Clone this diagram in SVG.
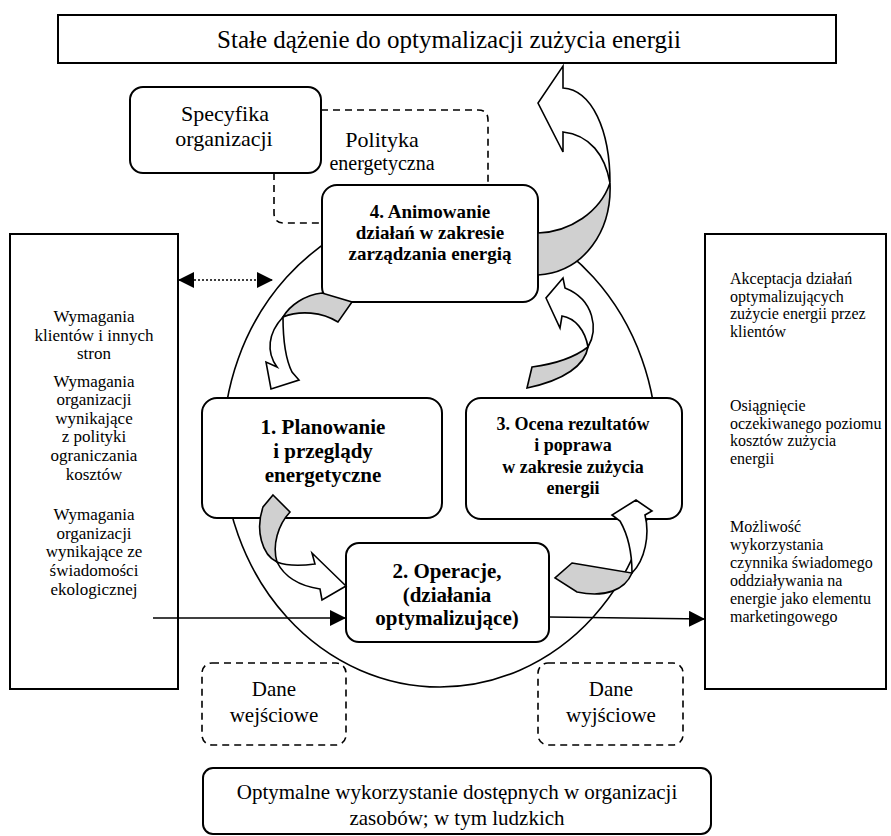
<svg xmlns="http://www.w3.org/2000/svg" width="891" height="836" viewBox="0 0 891 836">
<defs>
<style>
.box{fill:#fff;stroke:#000;stroke-width:2}
.dbox{fill:none;stroke:#000;stroke-width:1.6;stroke-dasharray:7,5}
.t{font-family:"Liberation Serif","Times New Roman",serif;font-size:21px;fill:#000;text-anchor:middle}
.b{font-family:"Liberation Serif","Times New Roman",serif;font-weight:bold;fill:#000;text-anchor:middle}
.sl{font-family:"Liberation Serif","Times New Roman",serif;font-size:17px;fill:#000;text-anchor:middle}
.sr{font-family:"Liberation Serif","Times New Roman",serif;font-size:16px;fill:#000}
.wa{fill:#fff;stroke:#000;stroke-width:1.6;stroke-linejoin:miter}
.ga{fill:#d0d0d0;stroke:#000;stroke-width:1.6}
.ln{fill:none;stroke:#000;stroke-width:1.6}
</style>
<marker id="ah" viewBox="0 0 16 16" refX="16" refY="8" markerWidth="16" markerHeight="16" markerUnits="userSpaceOnUse" orient="auto-start-reverse">
<path d="M0,0 L16,8 L0,16 Z" fill="#000"/>
</marker>
</defs>

<ellipse cx="440" cy="447" rx="217" ry="240" class="ln"/>

<g id="top">
<rect x="58" y="15" width="778" height="48" class="box"/>
<text x="449" y="48" class="t" style="font-size:25px">Stałe dążenie do optymalizacji zużycia energii</text>
</g>

<g id="specyfika">
<rect x="130" y="87" width="191" height="86" rx="13" class="box"/>
<text x="225" y="121" class="t" style="font-size:22px">Specyfika</text>
<text x="224" y="146" class="t" style="font-size:22px">organizacji</text>
</g>

<g id="polityka">
<path d="M321,110 H478 Q488,110 488,120 V185 M274,173 V213 Q274,223 284,223 H322" class="dbox"/>
<text x="382" y="147" class="t" style="font-size:22px">Polityka</text>
<text x="382" y="170" class="t" style="font-size:20px">energetyczna</text>
</g>

<g id="left">
<rect x="10" y="234" width="168" height="455" class="box"/>
<text x="94" y="322" class="sl">Wymagania</text>
<text x="94" y="341" class="sl">klientów i innych</text>
<text x="94" y="359" class="sl">stron</text>
<text x="94" y="387" class="sl">Wymagania</text>
<text x="94" y="405" class="sl">organizacji</text>
<text x="94" y="424" class="sl">wynikające</text>
<text x="94" y="442" class="sl">z polityki</text>
<text x="94" y="461" class="sl">ograniczania</text>
<text x="94" y="480" class="sl">kosztów</text>
<text x="94" y="520" class="sl">Wymagania</text>
<text x="94" y="539" class="sl">organizacji</text>
<text x="94" y="557" class="sl">wynikające ze</text>
<text x="94" y="576" class="sl">świadomości</text>
<text x="94" y="595" class="sl">ekologicznej</text>
</g>

<g id="right">
<rect x="705" y="234" width="181" height="455" class="box"/>
<text x="730" y="284" class="sr">Akceptacja działań</text>
<text x="730" y="301.5" class="sr">optymalizujących</text>
<text x="730" y="319" class="sr">zużycie energii przez</text>
<text x="730" y="336.5" class="sr">klientów</text>
<text x="730" y="411" class="sr">Osiągnięcie</text>
<text x="730" y="428.5" class="sr">oczekiwanego poziomu</text>
<text x="730" y="446" class="sr">kosztów zużycia</text>
<text x="730" y="463.5" class="sr">energii</text>
<text x="730" y="532" class="sr">Możliwość</text>
<text x="730" y="550" class="sr">wykorzystania</text>
<text x="730" y="568" class="sr">czynnika świadomego</text>
<text x="730" y="586" class="sr">oddziaływania na</text>
<text x="730" y="604" class="sr">energie jako elementu</text>
<text x="730" y="622" class="sr">marketingowego</text>
</g>

<g id="n4">
<rect x="322" y="185" width="216" height="117" rx="15" class="box"/>
<text x="430" y="218" class="b" font-size="19">4. Animowanie</text>
<text x="430" y="239" class="b" font-size="19">działań w zakresie</text>
<text x="430" y="260" class="b" font-size="19">zarządzania energią</text>
</g>

<g id="n1">
<rect x="202" y="398" width="240" height="120" rx="15" class="box"/>
<text x="323" y="434" class="b" font-size="21">1. Planowanie</text>
<text x="323" y="458" class="b" font-size="21">i przeglądy</text>
<text x="323" y="482" class="b" font-size="21">energetyczne</text>
</g>

<g id="n3">
<rect x="466" y="398" width="216" height="121" rx="15" class="box"/>
<text x="573" y="430" class="b" font-size="18">3. Ocena rezultatów</text>
<text x="573" y="451" class="b" font-size="18">i poprawa</text>
<text x="573" y="473" class="b" font-size="18">w zakresie zużycia</text>
<text x="573" y="494" class="b" font-size="18">energii</text>
</g>

<g id="n2">
<rect x="346" y="543" width="203" height="99" rx="13" class="box"/>
<text x="447" y="578" class="b" font-size="21">2. Operacje,</text>
<text x="447" y="602" class="b" font-size="21">(działania</text>
<text x="447" y="625" class="b" font-size="21">optymalizujące)</text>
</g>

<g id="dane-we">
<rect x="202" y="663" width="144" height="82" rx="10" class="dbox"/>
<text x="274" y="696" class="t">Dane</text>
<text x="274" y="722" class="t">wejściowe</text>
</g>

<g id="dane-wy">
<rect x="538" y="663" width="145" height="82" rx="10" class="dbox"/>
<text x="611" y="696" class="t">Dane</text>
<text x="611" y="722" class="t">wyjściowe</text>
</g>

<g id="bottom">
<rect x="203" y="768" width="508" height="66" rx="10" class="box"/>
<text x="457" y="799" class="t">Optymalne wykorzystanie dostępnych w organizacji</text>
<text x="457" y="825" class="t">zasobów; w tym ludzkich</text>
</g>

<g id="connectors">
<line x1="178" y1="280" x2="273" y2="280" stroke="#000" stroke-width="1.6" stroke-dasharray="2,2" marker-start="url(#ah)" marker-end="url(#ah)"/>
<line x1="153" y1="618" x2="346" y2="618" class="ln" marker-end="url(#ah)"/>
<line x1="549" y1="617" x2="705" y2="619" class="ln" marker-end="url(#ah)"/>

<path class="ga" d="M538,275 C585,272 612,230 610,183 C600,212 570,232 538,233 Z"/>
<path class="wa" d="M610,183 C610,130 592,90 563,88 L563,66 L538,103 L563,152 L563,132 C590,135 605,155 610,183 Z"/>

<path class="ga" d="M322,293 C305,295 290,305 283,317 C300,310 322,312 338,322 L352,302 Z"/>
<path class="wa" d="M283,317 C268,333 266,352 277,367 L266,362 L271,389 L299,380 L292,372 C286,360 283,340 283,317 Z"/>

<path class="ga" d="M273,495 L290,512 C278,525 272,545 277,562 C262,555 255,530 263,507 Z"/>
<path class="wa" d="M277,562 C285,578 300,586 320,589 L322,600 L346,586 L312,553 L315,564 C300,566 287,566 277,562 Z"/>

<path class="ga" d="M572,563 C595,567 615,570 632,573 C625,590 605,598 577,592 L555,578 Z"/>
<path class="wa" d="M632,573 C645,560 650,535 645,515 L652,511 L636,500 L612,515 L620,521 C628,535 632,555 632,573 Z"/>

<path class="ga" d="M527,388 L532,367 C555,364 575,357 588,347 C585,365 565,380 527,388 Z"/>
<path class="wa" d="M588,347 C598,330 595,300 565,288 L563,278 L546,298 L560,328 L562,316 C575,318 585,330 588,347 Z"/>
</g>
</svg>
